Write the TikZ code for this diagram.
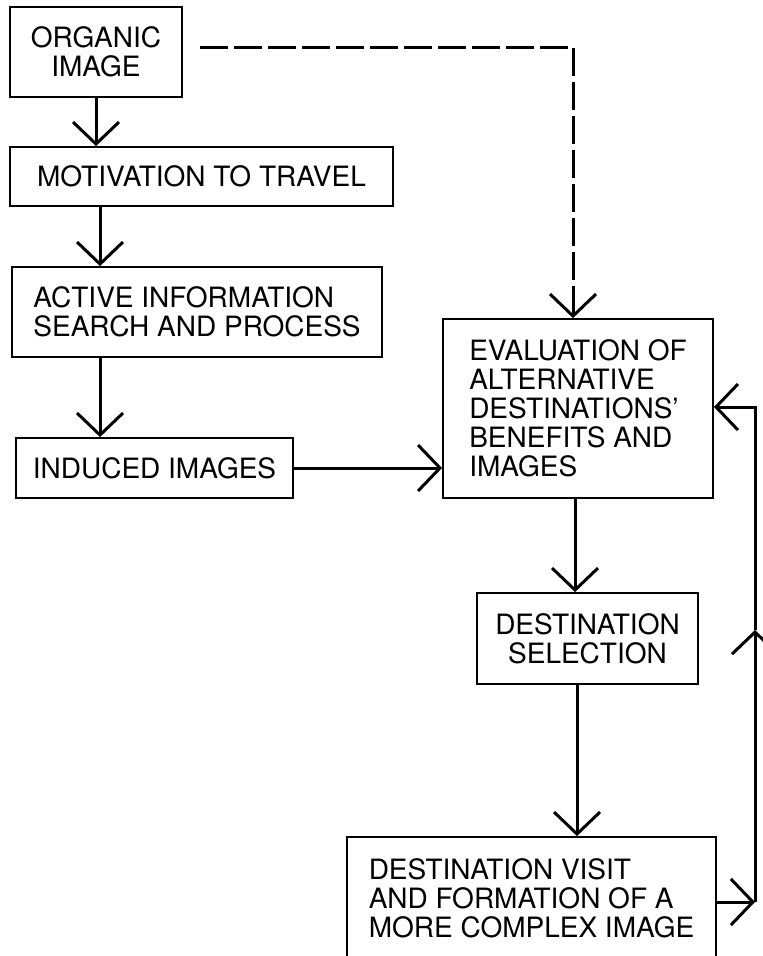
\documentclass[tikz,border=0pt]{standalone}
\usepackage{fontspec}
\setmainfont{TeX Gyre Heros}
\usetikzlibrary{arrows.meta,calc}
\begin{document}
\begin{tikzpicture}[x=1pt,y=-1pt,
  box/.style={draw,line width=1.8pt,rectangle,inner sep=0pt,
    font=\fontsize{28}{29}\selectfont},
  arr/.style={line width=3pt,-{Straight Barb[length=22pt,width=46pt]}},
  dsh/.style={arr,dash pattern=on 28pt off 6pt}]
\useasboundingbox (0,0) rectangle (763,956);
\node[box,minimum width=172pt,minimum height=90pt,align=center] (org) at (96,52) {ORGANIC\\IMAGE};
\node[box,minimum width=383pt,minimum height=59pt,align=center] (mot) at (201.5,176.5) {MOTIVATION TO TRAVEL};
\node[box,minimum width=370pt,minimum height=90pt,align=left] (act) at (197,312) {ACTIVE INFORMATION\\SEARCH AND PROCESS};
\node[box,minimum width=277pt,minimum height=60pt,align=center] (ind) at (154.5,468) {INDUCED IMAGES};
\node[box,minimum width=270pt,minimum height=179pt,align=left] (ev) at (578,408.5) {EVALUATION OF\\ALTERNATIVE\\DESTINATIONS'\\BENEFITS AND\\IMAGES};
\node[box,minimum width=221pt,minimum height=91pt,align=center] (sel) at (587.5,638.5) {DESTINATION\\SELECTION};
\node[box,minimum width=369pt,minimum height=122pt,align=left] (vis) at (531.5,898) {DESTINATION VISIT\\AND FORMATION OF A\\MORE COMPLEX IMAGE};
\coordinate (dstart) at (200,47);
\coordinate (xd) at (573,0);
\coordinate (xa) at (100,0);
\coordinate (xs) at (575,0);
\coordinate (xv) at (577,0);
\coordinate (xf) at (755,0);
\coordinate (yf) at (0,407);
\coordinate (ym) at (0,630);
\coordinate (yb) at (0,902);
\draw[arr] (org.south) -- (org.south |- mot.north);
\draw[arr] (xa |- mot.south) -- (xa |- act.north);
\draw[arr] (xa |- act.south) -- (xa |- ind.north);
\draw[arr] (ind.east) -- (ind.east -| ev.west);
\draw[dsh] (dstart) -- (dstart -| xd) -- (xd |- ev.north);
\draw[arr] (xs |- ev.south) -- (xs |- sel.north);
\draw[arr] (xv |- sel.south) -- (xv |- vis.north);
\draw[arr] (yb -| vis.east) -- (yb -| xf);
\draw[arr] (yb -| xf) -- (ym -| xf);
\draw[arr] (ym -| xf) -- (yf -| xf) -- (yf -| ev.east);
\end{tikzpicture}
\end{document}
